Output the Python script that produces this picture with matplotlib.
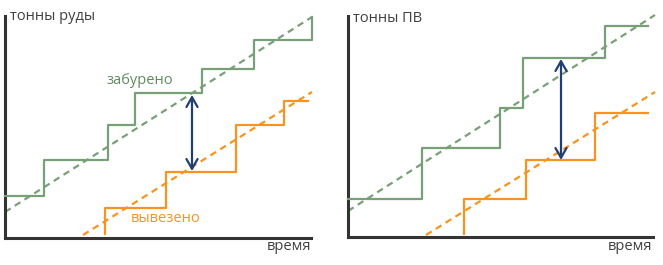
import matplotlib.pyplot as plt
import numpy as np

plt.rcParams['font.family'] = ['Open Sans', 'DejaVu Sans']

W, H = 663, 265

# --- DATA (time / tonnes, measured from the axis origin) ---
# left panel: ore
ore_drill_t = [0, 39, 103, 130, 197, 249, 307]
ore_drill_v = [42, 78, 113, 145, 169, 198, 221]
ore_drill_trend_t = [0, 307]
ore_drill_trend_v = [26, 221]
ore_haul_t = [100, 161, 231, 279, 303]
ore_haul_v = [4, 30, 66, 113, 137]
ore_haul_trend_t = [78, 307]
ore_haul_trend_v = [3, 146]
ore_gap_t = 187
ore_gap_v = [67, 143]

# right panel: overburden (ПВ)
pv_drill_t = [0, 74, 152, 175, 257, 300]
pv_drill_v = [38, 89, 129, 179, 211]
pv_drill_trend_t = [0, 307]
pv_drill_trend_v = [26, 222]
pv_haul_t = [116, 178, 247, 300]
pv_haul_v = [3, 38, 77, 124]
pv_haul_trend_t = [78, 307]
pv_haul_trend_v = [2, 145]
pv_gap_t = 213
pv_gap_v = [77, 178]

GREEN = '#78a077'
GREEN_TXT = '#5f8c5f'
ORANGE = '#f7931e'
NAVY = '#1f3e72'
AXIS = '#333333'
TXT = '#404040'


def drill_path(t, v):
    # horizontal runs at each level, last point climbs to the final value
    xs, ys = [], []
    for i in range(len(t) - 1):
        xs += [t[i], t[i + 1]]
        ys += [v[i], v[i]]
    if len(v) > len(t) - 1:
        xs.append(t[-1])
        ys.append(v[-1])
    return xs, ys


def haul_path(t, v):
    # starts with a vertical jump from v[0] to v[1] at t[0]
    xs, ys = [t[0]], [v[0]]
    for i in range(len(t) - 1):
        xs += [t[i], t[i + 1]]
        ys += [v[i + 1], v[i + 1]]
    return xs, ys


def panel(ax, drill, drill_tr, haul, haul_tr, gap_t, gap_v, xmax, ymax):
    ax.set_xlim(0, xmax)
    ax.set_ylim(0, ymax)
    for s in ['top', 'right']:
        ax.spines[s].set_visible(False)
    for s in ['left', 'bottom']:
        ax.spines[s].set_color(AXIS)
        ax.spines[s].set_linewidth(2.2)
    ax.set_xticks([])
    ax.set_yticks([])

    xs, ys = drill_path(*drill)
    ax.plot(xs, ys, color=GREEN, lw=1.6, clip_on=False, zorder=3)
    ax.plot(*drill_tr, color=GREEN, lw=1.6, dashes=(3, 2.2), clip_on=False, zorder=2)
    xs, ys = haul_path(*haul)
    ax.plot(xs, ys, color=ORANGE, lw=1.6, clip_on=False, zorder=3)
    ax.plot(*haul_tr, color=ORANGE, lw=1.6, dashes=(3, 2.2), clip_on=False, zorder=2)

    ax.annotate('', xy=(gap_t, gap_v[1]), xytext=(gap_t, gap_v[0]),
                arrowprops=dict(arrowstyle='<->,head_length=0.7,head_width=0.4',
                                color=NAVY, lw=1.6, shrinkA=0, shrinkB=0,
                                mutation_scale=10),
                zorder=4)


fig = plt.figure(figsize=(W / 100, H / 100), dpi=100)
fig.patch.set_facecolor('white')

ax1 = fig.add_axes([5 / W, (H - 238) / H, 306 / W, 222 / H])
panel(ax1, (ore_drill_t, ore_drill_v), (ore_drill_trend_t, ore_drill_trend_v),
      (ore_haul_t, ore_haul_v), (ore_haul_trend_t, ore_haul_trend_v),
      ore_gap_t, ore_gap_v, 306, 222)
ax1.text(5, 222, 'тонны руды', color=TXT, fontsize=10.5, ha='left', va='center')
ax1.text(306, -9, 'время', color=TXT, fontsize=10.5, ha='right', va='center')
ax1.text(135, 158, 'забурено', color=GREEN_TXT, fontsize=10.5, ha='center', va='center')
ax1.text(161, 19, 'вывезено', color=ORANGE, fontsize=10.5, ha='center', va='center')

ax2 = fig.add_axes([348 / W, (H - 237) / H, 305 / W, 221 / H])
panel(ax2, (pv_drill_t, pv_drill_v), (pv_drill_trend_t, pv_drill_trend_v),
      (pv_haul_t, pv_haul_v), (pv_haul_trend_t, pv_haul_trend_v),
      pv_gap_t, pv_gap_v, 305, 221)
ax2.text(5, 218, 'тонны ПВ', color=TXT, fontsize=10.5, ha='left', va='center')
ax2.text(304, -10, 'время', color=TXT, fontsize=10.5, ha='right', va='center')

fig.savefig('out.png', dpi=100, facecolor='white')
